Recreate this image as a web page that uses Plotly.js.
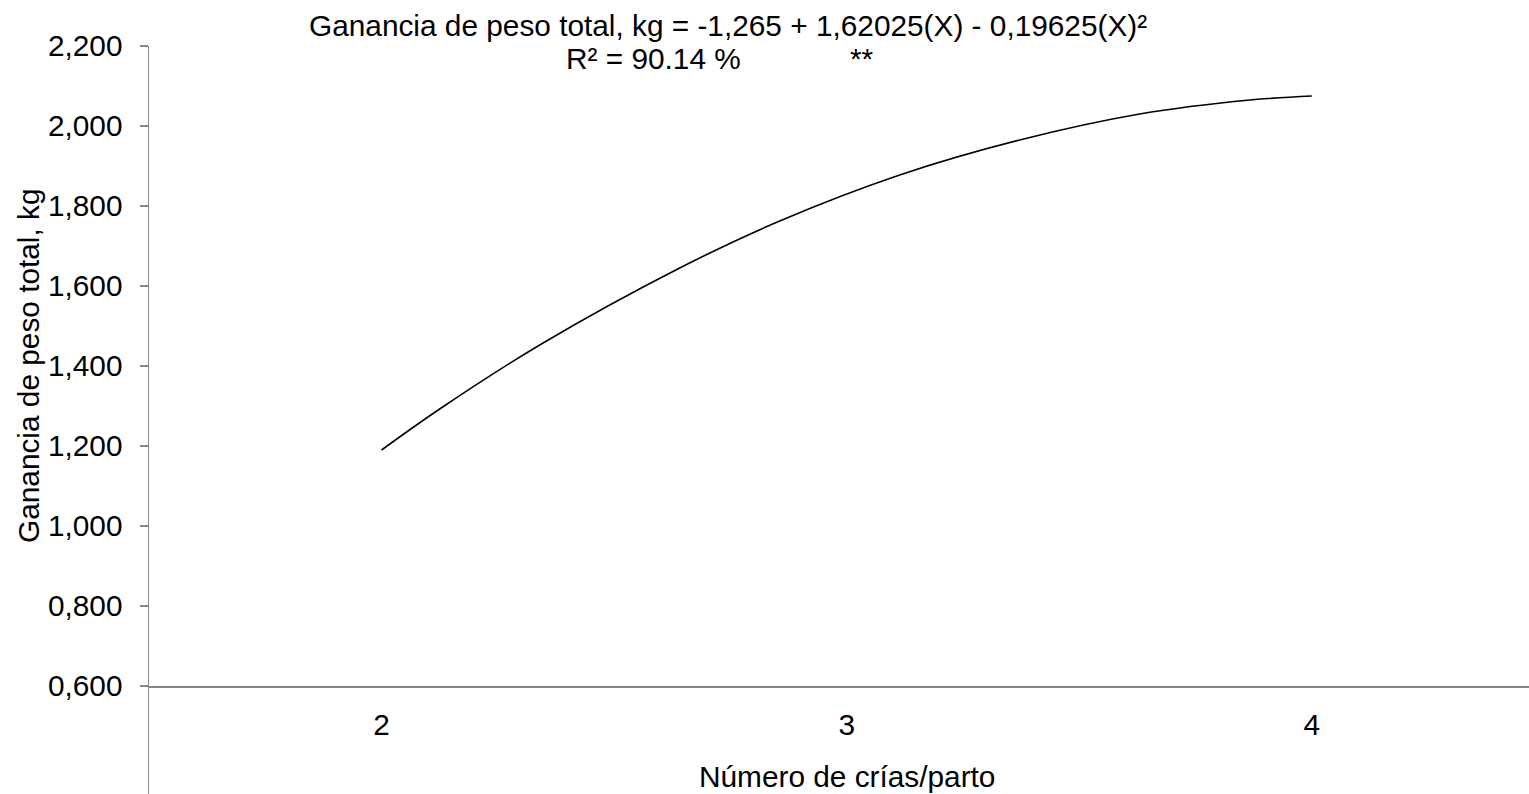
<!DOCTYPE html>
<html>
<head>
<meta charset="utf-8">
<script src="https://cdn.plot.ly/plotly-3.0.1.min.js"></script>
<style>html,body{margin:0;padding:0;background:#fff;}#chart{width:1529px;height:794px;}</style>
</head>
<body>
<div id="chart"></div>
<script>
// Curve values
const crias = [2.0, 2.125, 2.34, 2.641, 2.856, 3.114, 3.372, 3.63, 3.867, 4.0];
const ganancia = [1.19, 1.2925, 1.4525, 1.645, 1.7625, 1.8775, 1.965, 2.03, 2.065, 2.075];

const xTickVals = [2, 3, 4];
const xTickText = ["2", "3", "4"];
const yTickVals = [0.6, 0.8, 1.0, 1.2, 1.4, 1.6, 1.8, 2.0, 2.2];
const yTickText = ["0,600", "0,800", "1,000", "1,200", "1,400", "1,600", "1,800", "2,000", "2,200"];

const titleLine1 = "Ganancia de peso total, kg = -1,265 + 1,62025(X) - 0,19625(X)²";
const titleLine2 = "R² = 90.14 %";
const signif = "**";
const xTitle = "Número de crías/parto";
const yTitle = "Ganancia de peso total, kg";

const FONT = "Liberation Sans, Arial, sans-serif";
const FS = 29.8;
const AXC = "#868686";

// helpers converting page pixels to paper fractions (plot area: x 149..1529, y 46..794)
const px = v => (v - 149) / 1380;
const py = v => (794 - v) / 748;

const trace = {
  x: crias, y: ganancia, type: "scatter", mode: "lines",
  line: {color: "#000000", width: 1.6, shape: "spline", smoothing: 1},
  hoverinfo: "x+y", showlegend: false
};

const txt = {family: FONT, size: FS, color: "#000"};

const layout = {
  width: 1529, height: 794,
  margin: {l: 149, r: 0, t: 46, b: 0, pad: 0},
  paper_bgcolor: "#ffffff", plot_bgcolor: "#ffffff",
  font: {family: FONT, size: FS, color: "#000000"},
  showlegend: false,
  xaxis: {
    range: [1.5, 4.467], tickvals: xTickVals, ticktext: xTickText,
    showgrid: false, zeroline: false, showline: true, linecolor: AXC, linewidth: 1.5,
    ticks: "", anchor: "free", position: 108/748,
    ticklabelstandoff: 12,
    tickfont: txt
  },
  yaxis: {
    range: [0.33, 2.2], tickvals: yTickVals, ticktext: yTickText,
    showgrid: false, zeroline: false, showline: true, linecolor: AXC, linewidth: 1.5,
    ticks: "outside", ticklen: 8, tickwidth: 1.5, tickcolor: AXC,
    ticklabelstandoff: 11,
    tickfont: txt
  },
  annotations: [
    {text: titleLine1, xref: "paper", yref: "paper", x: px(727.5), y: py(26),
     xanchor: "center", yanchor: "middle", showarrow: false, font: txt},
    {text: titleLine2, xref: "paper", yref: "paper", x: px(653), y: py(59),
     xanchor: "center", yanchor: "middle", showarrow: false, font: txt},
    {text: signif, xref: "paper", yref: "paper", x: px(862), y: py(59),
     xanchor: "center", yanchor: "middle", showarrow: false, font: txt},
    {text: xTitle, xref: "paper", yref: "paper", x: px(847), y: py(776),
     xanchor: "center", yanchor: "middle", showarrow: false, font: txt},
    {text: yTitle, xref: "paper", yref: "paper", x: px(28), y: py(366), textangle: -90,
     xanchor: "center", yanchor: "middle", showarrow: false, font: txt}
  ]
};

Plotly.newPlot("chart", [trace], layout, {displayModeBar: false, staticPlot: true});
</script>
</body>
</html>
